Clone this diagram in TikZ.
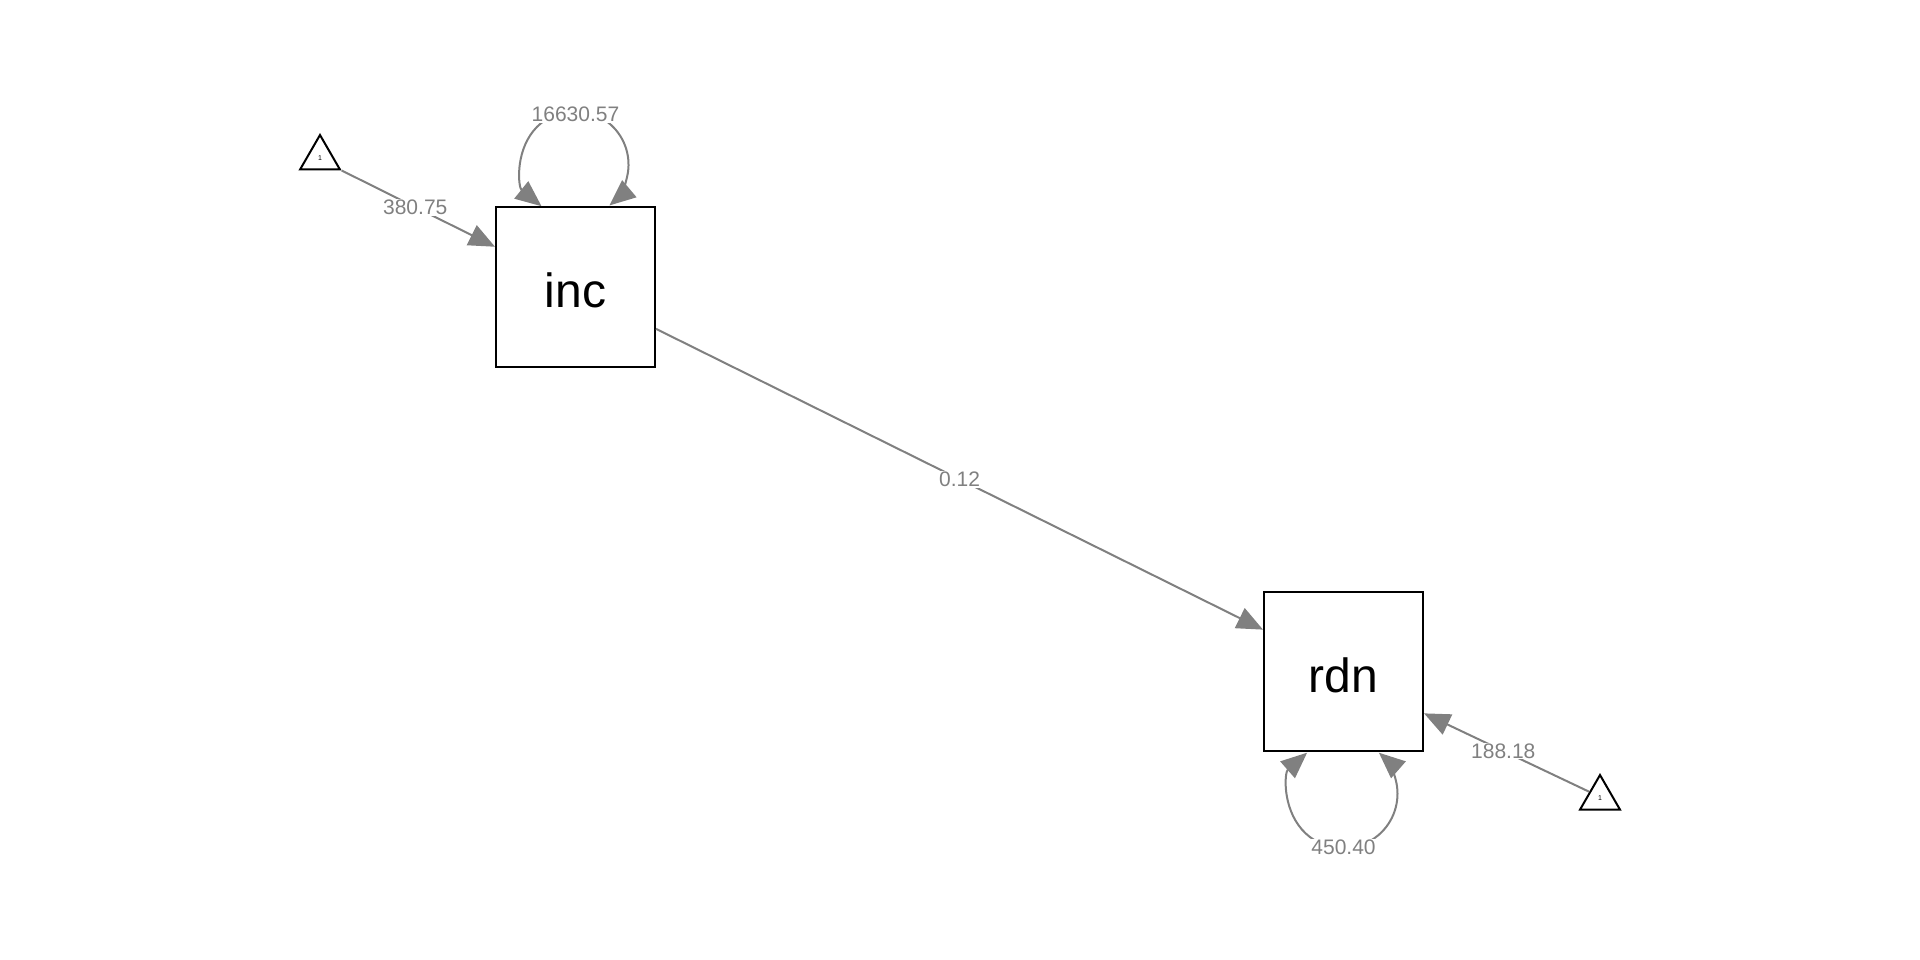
\documentclass[tikz,border=0pt]{standalone}
\usepackage{fontspec}
\setmainfont{Liberation Sans}
\usetikzlibrary{arrows.meta,shapes.geometric,calc}
\begin{document}
\begin{tikzpicture}[x=1pt,y=-1pt,
  varbox/.style={draw=black,line width=2pt,minimum size=159pt,inner sep=0pt,text height=41pt,text depth=0pt,font=\fontsize{48}{56}\selectfont},
  constri/.style={draw=black,line width=2pt,regular polygon,regular polygon sides=3,minimum size=46pt,inner sep=0pt,font=\fontsize{7}{8}\selectfont},
  pathline/.style={draw=gray,line width=2pt,-{Triangle[length=26pt,width=22pt]}},
  looppath/.style={draw=gray,line width=2pt,{Triangle[length=26pt,width=22pt]}-{Triangle[length=26pt,width=22pt]}},
  edgelab/.style={fill=white,text=gray,inner sep=1pt,font=\fontsize{21}{24}\selectfont}]
\path[use as bounding box] (0,0) rectangle (1920,960);
\node[varbox] (inc) at (575.5,287) {inc};
\node[varbox] (rdn) at (1343.5,671.5) {rdn};
\node[constri] (t1) at (320,158) {1};
\node[constri] (t2) at (1600,798) {1};
% means
\draw[pathline] (t1.corner 3) -- node[edgelab,pos=0.48] {380.75} ($(inc.north west)!0.25!(inc.south west)$);
\draw[pathline] (t2.side 1) -- node[edgelab,pos=0.52] {188.18} ($(rdn.north east)!0.76!(rdn.south east)$);
% regression
\draw[pathline] ($(inc.north east)!0.76!(inc.south east)$) -- node[edgelab] {0.12} ($(rdn.north west)!0.24!(rdn.south west)$);
% variances
\coordinate (ia) at ($(inc.north west)+(46.5,-0.3)$);
\draw[looppath] (ia) arc[start angle=128.8, end angle=409.9, radius=53.5];
\node[edgelab] (incvar) at ($(inc.north)+(0,-92)$) {16630.57};
\coordinate (ra) at ($(rdn.south west)+(44.1,0.7)$);
\draw[looppath] (ra) arc[start angle=228.8, end angle=-48.8, radius=54.5];
\node[edgelab] (rdnvar) at ($(rdn.south)+(0,95.5)$) {450.40};
\end{tikzpicture}
\end{document}
